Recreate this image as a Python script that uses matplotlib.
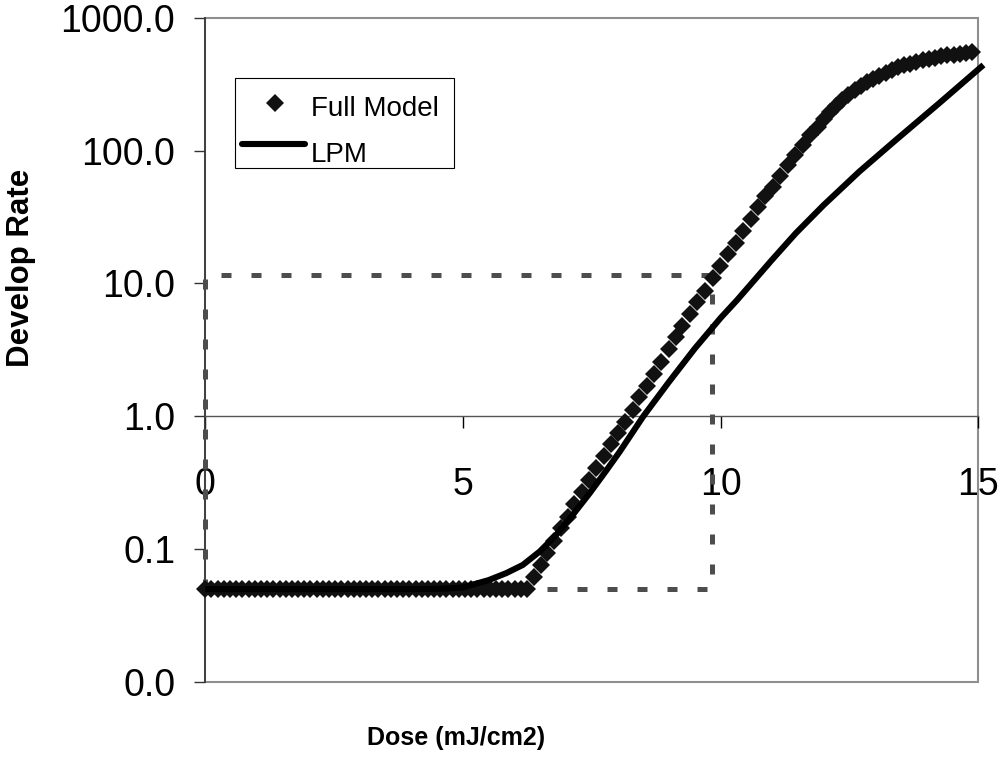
import matplotlib
matplotlib.use("Agg")
import matplotlib.pyplot as plt
from matplotlib.lines import Line2D
from matplotlib.patches import Rectangle

plt.rcParams["font.family"] = ["Liberation Sans", "DejaVu Sans"]

# Full Model (diamonds)
full_dose = [
    0.00, 0.12, 0.24, 0.36, 0.48, 0.60, 0.72, 0.84, 0.96, 1.08,
    1.20, 1.32, 1.44, 1.56, 1.68, 1.80, 1.92, 2.04, 2.16, 2.28,
    2.40, 2.52, 2.64, 2.76, 2.88, 3.00, 3.12, 3.24, 3.36, 3.48,
    3.60, 3.72, 3.84, 3.96, 4.08, 4.20, 4.32, 4.44, 4.56, 4.68,
    4.80, 4.92, 5.04, 5.16, 5.28, 5.40, 5.52, 5.64, 5.76, 5.88,
    6.00, 6.12, 6.24,
    6.38, 6.51, 6.63, 6.76, 6.91, 7.03, 7.16, 7.31, 7.44, 7.58,
    7.73, 7.88, 8.00, 8.15, 8.29, 8.42, 8.57, 8.70, 8.84, 8.99,
    9.14, 9.26, 9.41, 9.55, 9.70, 9.85, 9.99, 10.14, 10.29, 10.43,
    10.58, 10.73, 10.86, 11.01, 11.15, 11.30, 11.45, 11.59, 11.74, 11.88,
    12.00, 12.12, 12.24, 12.36, 12.48, 12.60, 12.72, 12.84, 12.96, 13.08,
    13.20, 13.32, 13.44, 13.56, 13.68, 13.80, 13.92, 14.04, 14.16, 14.28,
    14.40, 14.52, 14.64, 14.76, 14.88,
]
full_rate = [
    0.05, 0.05, 0.05, 0.05, 0.05, 0.05, 0.05, 0.05, 0.05, 0.05,
    0.05, 0.05, 0.05, 0.05, 0.05, 0.05, 0.05, 0.05, 0.05, 0.05,
    0.05, 0.05, 0.05, 0.05, 0.05, 0.05, 0.05, 0.05, 0.05, 0.05,
    0.05, 0.05, 0.05, 0.05, 0.05, 0.05, 0.05, 0.05, 0.05, 0.05,
    0.05, 0.05, 0.05, 0.05, 0.05, 0.05, 0.05, 0.05, 0.05, 0.05,
    0.05, 0.05, 0.05,
    0.0622, 0.0762, 0.0933, 0.115, 0.144, 0.176, 0.218, 0.267, 0.332, 0.406,
    0.504, 0.619, 0.746, 0.912, 1.12, 1.39, 1.69, 2.08, 2.58, 3.20,
    3.94, 4.79, 5.89, 7.29, 8.83, 10.9, 13.6, 16.7, 20.3, 24.8,
    30.5, 37.8, 45.5, 53.5, 64.4, 78.0, 92.7, 110, 131, 151,
    174, 195, 216, 240, 263, 285, 307, 327, 347, 367,
    386, 405, 422, 438, 452, 466, 479, 490, 501, 511,
    520, 528, 537, 545, 552,
]

# LPM (solid line)
lpm_dose = [0.0, 1.0, 2.0, 3.0, 4.0, 4.5, 4.75, 5.0, 5.5, 5.84, 6.16, 6.49, 6.81,
            7.13, 7.46, 7.78, 8.04, 8.5, 9.0, 9.5, 10.0, 10.32, 11.0, 11.46,
            12.0, 12.69, 13.4, 14.24, 15.1]
lpm_rate = [0.05, 0.05, 0.05, 0.05, 0.05, 0.0502, 0.0506, 0.0515, 0.0585, 0.066,
            0.076, 0.096, 0.128, 0.181, 0.264, 0.39, 0.54, 1.0, 1.82, 3.24,
            5.5, 7.5, 15.1, 23.9, 38.9, 69.4, 120, 227, 441]

# dashed guide box
box_dose = [0.0, 0.0, 9.83, 9.83, 0.0]
box_rate = [0.05, 11.6, 11.6, 0.05, 0.05]

y_ticks = [0.01, 0.1, 1, 10, 100, 1000]
y_labels = ["0.0", "0.1", "1.0", "10.0", "100.0", "1000.0"]
x_ticks = [0, 5, 10, 15]

W, H = 1003, 776


def px(x, y):
    # pixel position (from top-left) -> figure fraction
    return x / W, 1 - y / H


fig = plt.figure(figsize=(W / 100, H / 100), dpi=100)
ax = fig.add_axes([205.3 / W, 1 - 682 / H, (978.3 - 205.3) / W, (682 - 17.7) / H])

ax.plot(box_dose, box_rate, color="#4d4d4d", lw=3.6, dashes=(2, 4),
        dash_capstyle="butt", zorder=3, clip_on=False)
ax.plot(full_dose, full_rate, linestyle="none", marker="D", ms=9.5,
        color="#111111", mew=0, zorder=4, clip_on=False)
ax.plot(lpm_dose, lpm_rate, color="black", lw=4.4, zorder=5, clip_on=False,
        solid_capstyle="butt")

ax.set_yscale("log")
ax.set_ylim(0.01, 1000)
ax.set_xlim(0, 15)
ax.minorticks_off()
ax.set_yticks(y_ticks)
ax.set_yticklabels(y_labels)
ax.set_xticks(x_ticks)
ax.set_xticklabels([str(v) for v in x_ticks])

ax.spines["top"].set_visible(False)
ax.spines["right"].set_visible(False)
ax.spines["bottom"].set_position(("data", 1))
ax.spines["bottom"].set_color("#555555")
ax.spines["bottom"].set_linewidth(1.0)
ax.spines["left"].set_color("#333333")
ax.spines["left"].set_linewidth(1.2)
ax.spines["left"].set_zorder(2)

ax.tick_params(axis="y", direction="out", length=7.7, width=1.0, color="#333333",
               pad=14, labelsize=27)
ax.tick_params(axis="x", direction="out", length=8.6, width=1.0, color="black",
               pad=28, labelsize=27)

# plot area border
ax.add_patch(Rectangle((0, 0), 1, 1, transform=ax.transAxes, fill=False,
                       edgecolor="#8f8f8f", lw=1.5, zorder=1, clip_on=False))

# legend, drawn by hand to match the boxed Excel-style legend
x0, y0 = px(235, 168)
x1, y1 = px(454, 78)
fig.patches.append(Rectangle((x0, y0), x1 - x0, y1 - y0, transform=fig.transFigure,
                             facecolor="white", edgecolor="black", lw=0.8, zorder=6))
mx, my = px(274.7, 102.7)
fig.lines.append(Line2D([mx], [my], marker="D", ms=9, color="#111111", mew=0,
                        linestyle="none", transform=fig.transFigure, zorder=7))
lx0, ly = px(242, 143.5)
lx1, _ = px(305, 143.5)
fig.lines.append(Line2D([lx0, lx1], [ly, ly], color="black", lw=4.4,
                        solid_capstyle="round", transform=fig.transFigure, zorder=7))
tx, ty = px(311, 116)
fig.text(tx, ty, "Full Model", fontsize=20, va="baseline", ha="left", zorder=7)
tx, ty = px(311, 162)
fig.text(tx, ty, "LPM", fontsize=20, va="baseline", ha="left", zorder=7)

fig.text(21 / W, 1 - 268 / H, "Develop Rate", rotation=90, ha="center",
         va="center", fontsize=22.5, fontweight="bold")
fig.text(456 / W, 1 - 738 / H, "Dose (mJ/cm2)", ha="center", va="center",
         fontsize=18, fontweight="bold")

fig.savefig("out.png", dpi=100)
